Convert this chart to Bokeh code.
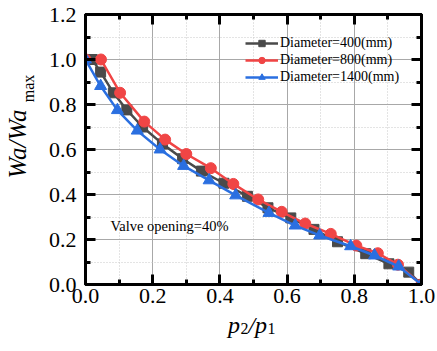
from bokeh.plotting import figure
from bokeh.models import (Range1d, LinearAxis, Label, Legend, LegendItem,
                          FixedTicker, CustomJSTickFormatter)
from bokeh.embed import file_html
from bokeh.resources import INLINE

# Relative pressure p2/p1 and normalised flow Wa/Wa_max for each pipe diameter
d400_x = [0.02, 0.045, 0.083, 0.123, 0.17, 0.229, 0.289, 0.345, 0.412, 0.482,
          0.543, 0.611, 0.68, 0.75, 0.834, 0.903, 0.962, 1.0]
d400_y = [1.0, 0.944, 0.852, 0.776, 0.70, 0.625, 0.559, 0.504, 0.45, 0.392,
          0.341, 0.296, 0.245, 0.19, 0.137, 0.092, 0.055, 0.0]

d800_x = [0.0, 0.046, 0.103, 0.175, 0.237, 0.300, 0.373, 0.440, 0.514, 0.584,
          0.654, 0.730, 0.806, 0.870, 0.930, 1.0]
d800_y = [1.0, 1.0, 0.852, 0.724, 0.644, 0.580, 0.517, 0.447, 0.378, 0.323,
          0.271, 0.225, 0.173, 0.139, 0.088, 0.0]

d1400_x = [0.0, 0.045, 0.095, 0.154, 0.222, 0.292, 0.368, 0.447, 0.546, 0.624,
           0.697, 0.789, 0.86, 0.932, 1.0]
d1400_y = [1.0, 0.882, 0.775, 0.684, 0.600, 0.527, 0.463, 0.396, 0.318, 0.262,
           0.218, 0.17, 0.129, 0.08, 0.0]

series_names = ["Diameter=400(mm)", "Diameter=800(mm)", "Diameter=1400(mm)"]
x_ticks = [0.0, 0.2, 0.4, 0.6, 0.8, 1.0]
y_ticks = [0.0, 0.2, 0.4, 0.6, 0.8, 1.0, 1.2]
note_text = "Valve opening=40%"

SERIF = "Liberation Serif"
W, H = 437, 351
LEFT, RIGHT, TOP, BOTTOM = 84, 16, 14, 67
X0, X1, Y0, Y1 = 0.0, 1.0, 0.0, 1.2

p = figure(width=W, height=H, output_backend="svg", toolbar_location=None,
           x_range=Range1d(X0, X1), y_range=Range1d(Y0, Y1),
           min_border_left=LEFT, min_border_right=RIGHT,
           min_border_top=TOP, min_border_bottom=BOTTOM)
p.background_fill_color = "white"
p.border_fill_color = "white"
p.outline_line_color = "black"
p.outline_line_width = 3

fw = W - LEFT - RIGHT
fh = H - TOP - BOTTOM


def frame_x(px):
    return X0 + (px - LEFT) / fw * (X1 - X0)


def frame_y(py):
    return Y0 + (TOP + fh - py) / fh * (Y1 - Y0)


def tick_style(ax):
    ax.axis_line_width = 3
    ax.major_tick_line_width = 3
    ax.minor_tick_line_width = 3
    ax.major_tick_in = 10
    ax.major_tick_out = 0
    ax.minor_tick_in = 5
    ax.minor_tick_out = 0


# main axes
for ax, ticks, standoff in ((p.xaxis[0], x_ticks, 4), (p.yaxis[0], y_ticks, 9)):
    minors = [round(t + 0.1, 2) for t in ticks[:-1]]
    ax.ticker = FixedTicker(ticks=ticks, minor_ticks=minors)
    ax.formatter = CustomJSTickFormatter(code="return tick.toFixed(1);")
    tick_style(ax)
    ax.major_label_text_font = SERIF
    ax.major_label_text_font_size = "22px"
    ax.major_label_text_color = "black"
    ax.major_label_standoff = standoff

# mirrored axes on top and right, ticks only
for loc, ticks in (("above", x_ticks), ("right", y_ticks)):
    minors = [round(t + 0.1, 2) for t in ticks[:-1]]
    ax = LinearAxis(ticker=FixedTicker(ticks=ticks, minor_ticks=minors),
                    formatter=CustomJSTickFormatter(code="return '';"))
    tick_style(ax)
    ax.major_label_standoff = 0
    ax.major_label_text_font_size = "1px"
    p.add_layout(ax, loc)

# grid: solid majors, dotted minors
for g in (p.xgrid[0], p.ygrid[0]):
    g.grid_line_color = "#a8a8a8"
    g.grid_line_width = 1
    g.minor_grid_line_color = "#c8c8c8"
    g.minor_grid_line_dash = "1 2"
    g.minor_grid_line_width = 1
p.xgrid[0].ticker = p.xaxis[0].ticker
p.ygrid[0].ticker = p.yaxis[0].ticker

colors = ["#4a4a4a", "#f04545", "#2a6fe0"]
markers = [("square", 10), ("circle", 11), ("triangle", 12)]
xs = [d400_x, d800_x, d1400_x]
ys = [d400_y, d800_y, d1400_y]
items = []
for name, cx, cy, col, (mk_name, mk_size) in zip(series_names, xs, ys,
                                                  colors, markers):
    ln = p.line(cx, cy, line_color=col, line_width=2.5)
    mk = p.scatter(cx, cy, marker=mk_name, size=mk_size, fill_color=col,
                   line_color=col)
    items.append(LegendItem(label=name, renderers=[ln, mk]))

legend = Legend(items=items, location=(160, 199))
legend.background_fill_alpha = 0
legend.border_line_alpha = 0
legend.padding = 0
legend.margin = 0
legend.spacing = 1
legend.glyph_width = 33
legend.glyph_height = 16
legend.label_height = 16
legend.label_standoff = 2
legend.label_text_font = SERIF
legend.label_text_font_size = "14px"
legend.label_text_color = "black"
legend.label_text_baseline = "middle"
p.add_layout(legend)

# annotation inside the frame
p.add_layout(Label(x=frame_x(109), y=frame_y(225), text=note_text,
                   text_font=SERIF, text_font_size="14.5px",
                   text_color="black", text_baseline="middle"))


def title_axis(side, positions, texts, size, style, standoff, vertical=False):
    """Bare axis whose only content is text pieces placed at given ticks."""
    ax = LinearAxis(ticker=FixedTicker(ticks=positions, minor_ticks=[]),
                    formatter=CustomJSTickFormatter(args=dict(parts=texts),
                                                    code="return parts[index];"))
    ax.axis_line_color = None
    ax.major_tick_line_color = None
    ax.minor_tick_line_color = None
    ax.major_tick_in = 0
    ax.major_tick_out = 0
    ax.minor_tick_in = 0
    ax.minor_tick_out = 0
    ax.major_label_text_font = SERIF
    ax.major_label_text_font_size = size
    ax.major_label_text_font_style = style
    ax.major_label_text_color = "black"
    ax.major_label_standoff = standoff
    if vertical:
        ax.major_label_orientation = "vertical"
    p.add_layout(ax, side)


# y-axis title Wa/Wa_max: subscript just outside the tick labels,
# main part pulled back so the two sit side by side
title_axis("left", [frame_y(88)], ["max"], "16px", "normal", 9, True)
title_axis("left", [frame_y(143.5)], ["Wa/Wa"], "25px", "italic", -14, True)

# x-axis title p2/p1: italic letters on one row, subscript digits
# lifted to sit just below their baseline
title_axis("below", [frame_x(233), frame_x(250.8), frame_x(260)],
           ["p", "/", "p"], "24px", "italic", 6)
title_axis("below", [frame_x(243.5), frame_x(270.5)], ["2", "1"],
           "16px", "normal", -18)

open("out.html", "w").write(file_html(p, INLINE))
